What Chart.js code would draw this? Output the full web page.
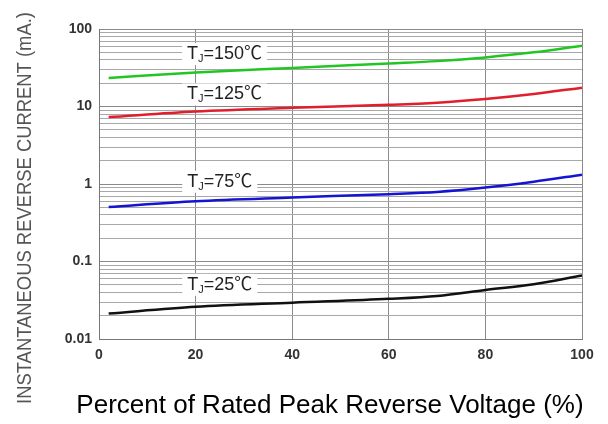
<!DOCTYPE html>
<html>
<head>
<meta charset="utf-8">
<script src="https://cdn.jsdelivr.net/npm/chart.js@4/dist/chart.umd.min.js"></script>
<style>
  html, body { margin: 0; padding: 0; background: #fff; }
  #wrap { width: 608px; height: 424px; }
</style>
</head>
<body>
<div id="wrap"><canvas id="irChart" width="608" height="424"></canvas></div>
<script>
// percent of rated peak reverse voltage
var xPct = [2, 20, 40, 60, 70, 80, 90, 100];

// reverse current (mA)
var tj150 = [23.3, 27.5, 31.5, 36, 38.5, 43, 50, 61];
var tj125 = [7.3, 8.6, 9.6, 10.5, 11.2, 12.5, 14.5, 17.5];
var tj75 = [0.505, 0.6, 0.67, 0.74, 0.79, 0.9, 1.07, 1.32];
var tj25 = [0.0213, 0.026, 0.0294, 0.033, 0.036, 0.043, 0.051, 0.066];

var xTicks = [0, 20, 40, 60, 80, 100];
var yTicks = [0.01, 0.1, 1, 10, 100];

// curve labels: text temperature, where they sit (data coords)
var labelTemps = ['150', '125', '75', '25'];
var labelX = [26, 26, 25, 25];
var labelY = [47.5, 14.3, 1.07, 0.05];

var FONT = '"Liberation Sans", Arial, "Noto Sans CJK SC", sans-serif';

function toPoints(values) {
    return xPct.map(function(x, i) { return { x: x, y: values[i] }; });
}

// grid lines at 1..9 of every decade
function logGridValues() {
    var vals = [];
    for (var d = 0; d < yTicks.length - 1; d++) {
        for (var m = 1; m < 10; m++) {
            vals.push(Math.round(yTicks[d] * m * 10000) / 10000);
        }
    }
    vals.push(yTicks[yTicks.length - 1]);
    return vals;
}

var curveLabels = {
    id: 'curveLabels',
    afterDraw: function(chart) {
        var ctx = chart.ctx;
        var xs = chart.scales.x, ys = chart.scales.y;
        ctx.save();
        labelTemps.forEach(function(t, i) {
            var cx = xs.getPixelForValue(labelX[i]);
            var cy = ys.getPixelForValue(labelY[i]);
            var big = '18px ' + FONT, small = '11px ' + FONT;
            ctx.font = big;
            var wT = ctx.measureText('T').width;
            var rest = '=' + t + '\u2103';
            var wR = ctx.measureText(rest).width;
            ctx.font = small;
            var wJ = ctx.measureText('J').width;
            var total = wT + wJ + wR;
            var x0 = cx - total / 2;
            ctx.fillStyle = '#fff';
            ctx.fillRect(x0 - 5, cy - 11, total + 10, 22);
            ctx.fillStyle = '#222';
            ctx.textBaseline = 'middle';
            ctx.textAlign = 'left';
            ctx.font = big;
            ctx.fillText('T', x0, cy);
            ctx.font = small;
            ctx.fillText('J', x0 + wT, cy + 5);
            ctx.font = big;
            ctx.fillText(rest, x0 + wT + wJ, cy);
        });

        // axis titles
        ctx.fillStyle = '#000';
        ctx.font = '26px ' + FONT;
        ctx.textAlign = 'center';
        ctx.textBaseline = 'alphabetic';
        ctx.fillText('Percent of Rated Peak Reverse Voltage (%)', 330, 413);

        ctx.translate(25, 208);
        ctx.rotate(-Math.PI / 2);
        ctx.scale(0.92, 1);
        ctx.fillStyle = '#555';
        ctx.font = '20px ' + FONT;
        ctx.textBaseline = 'middle';
        ctx.fillText('INSTANTANEOUS REVERSE CURRENT (mA.)', 0, 0);
        ctx.restore();
    }
};

function makeSet(label, values, color) {
    return {
        label: label,
        data: toPoints(values),
        borderColor: color,
        backgroundColor: color,
        borderWidth: 2.5,
        pointRadius: 0,
        cubicInterpolationMode: 'monotone',
        fill: false
    };
}

var ctx = document.getElementById('irChart').getContext('2d');
new Chart(ctx, {
    type: 'line',
    data: {
        datasets: [
            makeSet('TJ=150', tj150, '#22c622'),
            makeSet('TJ=125', tj125, '#e01e2c'),
            makeSet('TJ=75', tj75, '#1414d2'),
            makeSet('TJ=25', tj25, '#111111')
        ]
    },
    options: {
        responsive: false,
        animation: false,
        layout: { padding: { top: 29, right: 26, left: 0, bottom: 0 } },
        plugins: {
            legend: { display: false },
            tooltip: { enabled: false }
        },
        scales: {
            x: {
                type: 'linear',
                min: 0,
                max: 100,
                afterFit: function(scale) { scale.height = 85; },
                afterBuildTicks: function(scale) {
                    scale.ticks = xTicks.map(function(v) { return { value: v }; });
                },
                grid: { color: '#8a8a8a', lineWidth: 1, drawTicks: false },
                border: { color: '#777', width: 1 },
                ticks: {
                    padding: 8,
                    color: '#333',
                    font: { family: FONT, size: 14, weight: 'bold' },
                    maxRotation: 0
                }
            },
            y: {
                type: 'logarithmic',
                min: 0.01,
                max: 100,
                afterFit: function(scale) { scale.width = 99; },
                afterBuildTicks: function(scale) {
                    scale.ticks = logGridValues().map(function(v) {
                        return { value: v, major: yTicks.indexOf(v) >= 0 };
                    });
                },
                grid: {
                    color: function(c) { return c.tick && c.tick.major ? '#8a8a8a' : '#a8a8a8'; },
                    lineWidth: 1,
                    drawTicks: false
                },
                border: { color: '#777', width: 1 },
                ticks: {
                    autoSkip: false,
                    padding: 7,
                    color: '#333',
                    font: { family: FONT, size: 14, weight: 'bold' },
                    callback: function(v) {
                        return yTicks.indexOf(v) >= 0 ? String(v) : '';
                    }
                }
            }
        }
    },
    plugins: [curveLabels]
});
</script>
</body>
</html>
